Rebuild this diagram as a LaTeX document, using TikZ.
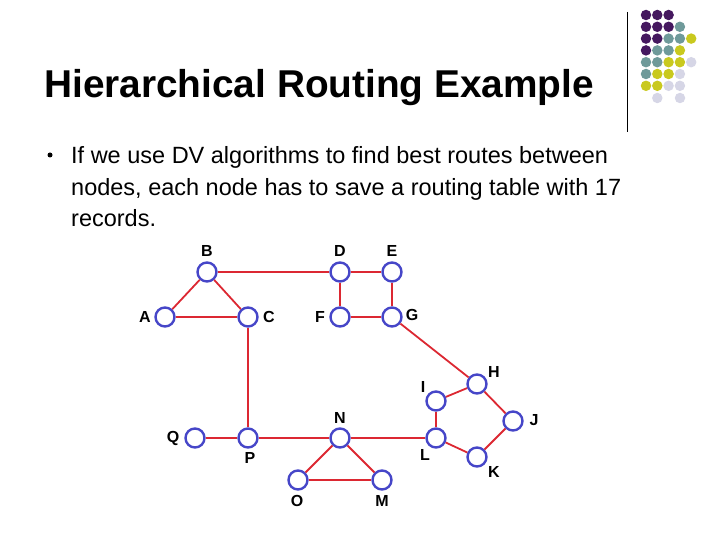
\documentclass[tikz,border=0pt]{standalone}
\usepackage{fontspec}
\setmainfont{Liberation Sans}
\usetikzlibrary{positioning}
\begin{document}
\begin{tikzpicture}[x=1pt,y=-1pt,
  nd/.style={circle,draw={rgb,255:red,70;green,70;blue,200},line width=2.4pt,fill=white,minimum size=19pt,inner sep=0pt},
  ed/.style={draw={rgb,255:red,220;green,40;blue,50},line width=1.8pt},
  lb/.style={font=\bfseries\fontsize{16}{18}\selectfont},
  dt/.style={circle,inner sep=0pt,minimum size=10.5pt}]
\useasboundingbox (0,0) rectangle (720,540);
\definecolor{pu}{HTML}{45185F}\definecolor{te}{HTML}{6F9A9A}
\definecolor{ye}{HTML}{C9C91E}\definecolor{la}{HTML}{D6D6E6}
\draw[line width=0.8pt] (627,12) -- (627,132);
\foreach \r/\list in {0/{pu,pu,pu},1/{pu,pu,pu,te},2/{pu,pu,te,te,ye},3/{pu,te,te,ye},4/{te,te,ye,ye,la},5/{te,ye,ye,la},6/{ye,ye,la,la}}{
  \foreach \c [count=\i from 0] in \list {\node[dt,fill=\c] at (646+11.3*\i,15+11.8*\r) {};}}
\node[dt,fill=la] at (657.3,98) {};
\node[dt,fill=la] at (680,98) {};
\node[anchor=west,font=\bfseries\fontsize{38.8}{44}\selectfont,inner sep=0pt] (title) at (44,88) {Hierarchical Routing Example};
\node[circle,fill=black,inner sep=0pt,minimum size=5pt] (bul) at (50,155) {};
\node[anchor=west,align=left,font=\fontsize{23.5}{31.5}\selectfont,inner sep=0pt] (txt) at (71,187) {If we use DV algorithms to find best routes between\\nodes, each node has to save a routing table with 17\\records.};
\foreach \n/\x/\y in {B/207/272,A/165/317,C/248/317,D/340/272,E/392/272,F/340/317,G/392/317,H/477/384,I/436/401,J/513/421,L/436/438,K/477/457,Q/195/438,P/248/438,N/340/438,O/298/480,M/382/480}
  \node[nd] (\n) at (\x,\y) {};
\foreach \a/\b in {B/A,B/C,A/C,B/D,D/E,D/F,E/G,F/G,G/H,H/I,H/J,I/L,J/K,L/K,C/P,Q/P,P/N,N/L,N/O,N/M,O/M}
  \draw[ed] (\a) -- (\b);
\node[lb] at (207,251) {B};
\node[lb] at (340,251) {D};
\node[lb] at (392,251) {E};
\node[lb] at (145,317) {A};
\node[lb] at (269,317) {C};
\node[lb] at (320,317) {F};
\node[lb] at (412,315) {G};
\node[lb] at (494,372) {H};
\node[lb] at (423,387) {I};
\node[lb] at (534,420) {J};
\node[lb] at (425,455) {L};
\node[lb] at (494,472) {K};
\node[lb] at (173,438) {Q};
\node[lb] at (250,458) {P};
\node[lb] at (340,418) {N};
\node[lb] at (297,501) {O};
\node[lb] at (382,501) {M};
\end{tikzpicture}
\end{document}
